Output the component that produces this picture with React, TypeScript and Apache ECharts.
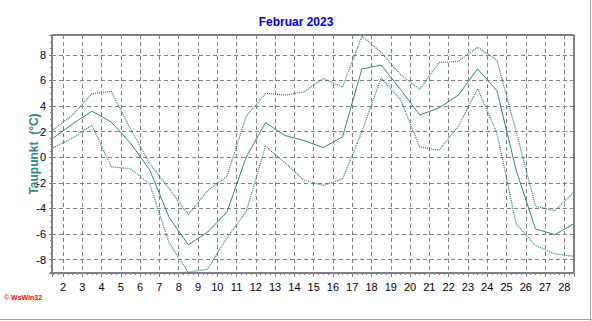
import React, { useEffect, useRef } from 'react';
import * as echarts from 'echarts';

const TITLE = 'Februar 2023';
const Y_NAME = 'Taupunkt  (°C)';
const COPYRIGHT = '© WsWin32';

// day of month (values plotted at the middle of each day)
const DAYS = [1, 2, 3, 4, 5, 6, 7, 8, 9, 10, 11, 12, 13, 14, 15, 16, 17, 18, 19, 20, 21, 22, 23, 24, 25, 26, 27, 28];

// daily mean dew point (°C)
const MEAN = [1.5, 2.6, 3.6, 2.75, 1.1, -1.0, -4.7, -6.85, -5.85, -4.3, 0.0, 2.7, 1.7, 1.3, 0.75, 1.6, 6.9, 7.2, 5.3, 3.3, 3.85, 4.85, 6.9, 5.2, -1.0, -5.6, -6.05, -5.2];
// daily maximum dew point (°C)
const MAX = [2.15, 3.3, 4.95, 5.15, 2.2, -0.5, -2.45, -4.5, -2.6, -1.5, 3.2, 5.0, 4.85, 5.1, 6.15, 5.5, 9.45, 8.2, 6.45, 5.3, 7.4, 7.5, 8.6, 7.6, 2.0, -3.8, -4.2, -2.7];
// daily minimum dew point (°C)
const MIN = [0.75, 1.5, 2.5, -0.75, -0.9, -2.1, -6.7, -9.0, -8.75, -6.3, -4.25, 0.85, -0.4, -1.8, -2.2, -1.7, 2.0, 6.2, 4.5, 0.8, 0.55, 2.4, 5.35, 1.9, -5.2, -6.9, -7.55, -7.75];

const LINE_COLOR = '#2f8585';
const DOT_COLOR = '#237d7d';
const GRID_COLOR = '#808080';
const FONT = 'Liberation Sans';

export default function App() {
  const ref = useRef<HTMLDivElement>(null);

  useEffect(() => {
    const chart = echarts.init(ref.current as HTMLDivElement, null, { renderer: 'svg' });
    const pts = (arr: number[]) => DAYS.map((d, i) => [d + 0.5, arr[i]]);
    const isInt = (v: number) => Math.abs(v - Math.round(v)) < 1e-6;

    chart.setOption({
      animation: false,
      backgroundColor: '#ffffff',
      title: {
        text: TITLE,
        left: 'center',
        top: 11,
        textStyle: { color: '#0000ff', fontSize: 12, fontWeight: 'bold', fontFamily: FONT },
      },
      grid: {
        left: 52,
        right: 18,
        top: 35,
        bottom: 48,
        show: true,
        borderColor: '#000000',
        borderWidth: 1,
        backgroundColor: 'transparent',
      },
      xAxis: {
        type: 'value',
        min: 1.43,
        max: 28.5,
        minInterval: 1,
        maxInterval: 1,
        splitNumber: 27,
        axisLine: { show: true, onZero: false, lineStyle: { color: GRID_COLOR, width: 2 } },
        axisTick: { show: true, length: 4, lineStyle: { color: GRID_COLOR } },
        minorTick: { show: true, splitNumber: 4, length: 2, lineStyle: { color: GRID_COLOR } },
        axisLabel: {
          color: '#000',
          fontSize: 11,
          fontFamily: FONT,
          margin: 8,
          showMinLabel: false,
          showMaxLabel: false,
          formatter: (v: number) => (isInt(v) ? String(Math.round(v)) : ''),
        },
        splitLine: { show: true, lineStyle: { color: GRID_COLOR, type: [4, 3], width: 1 } },
      },
      yAxis: {
        type: 'value',
        min: -9.05,
        max: 9.55,
        minInterval: 2,
        maxInterval: 2,
        name: Y_NAME,
        nameLocation: 'middle',
        nameGap: 12,
        nameMoveOverlap: false,
        nameTextStyle: { color: '#2e8b8b', fontSize: 12, fontWeight: 'bold', fontFamily: FONT },
        axisLine: { show: true, onZero: false, lineStyle: { color: GRID_COLOR, width: 2 } },
        axisTick: { show: true, length: 3, lineStyle: { color: GRID_COLOR } },
        minorTick: { show: true, splitNumber: 4, length: 2, lineStyle: { color: GRID_COLOR } },
        axisLabel: {
          color: '#000',
          fontSize: 11,
          fontFamily: FONT,
          margin: 6,
          showMinLabel: false,
          showMaxLabel: false,
          formatter: (v: number) => (isInt(v) && Math.round(v) % 2 === 0 ? String(Math.round(v)) : ''),
        },
        splitLine: { show: true, lineStyle: { color: GRID_COLOR, type: [4, 3], width: 1 } },
      },
      series: [
        {
          name: 'Maximum',
          type: 'line',
          data: pts(MAX),
          symbol: 'none',
          lineStyle: { color: DOT_COLOR, width: 1.2, type: [1, 1] },
        },
        {
          name: 'Minimum',
          type: 'line',
          data: pts(MIN),
          symbol: 'none',
          lineStyle: { color: DOT_COLOR, width: 1.2, type: [1, 1] },
        },
        {
          name: 'Mittel',
          type: 'line',
          data: pts(MEAN),
          symbol: 'none',
          lineStyle: { color: LINE_COLOR, width: 1 },
        },
      ],
      graphic: [
        {
          type: 'text',
          left: 4,
          top: 294,
          style: { text: COPYRIGHT, fill: '#ff0000', fontSize: 7, fontWeight: 'bold', fontFamily: FONT },
        },
        {
          type: 'line',
          shape: { x1: 590.5, y1: 0, x2: 590.5, y2: 321 },
          style: { stroke: '#a0a0a0', lineWidth: 1 },
        },
        {
          type: 'line',
          shape: { x1: 0, y1: 319.5, x2: 592, y2: 319.5 },
          style: { stroke: '#a0a0a0', lineWidth: 1 },
        },
      ],
    });

    return () => chart.dispose();
  }, []);

  return (
    <div
      ref={ref}
      style={{ position: 'fixed', left: 0, top: 0, width: 592, height: 321, background: '#fff' }}
    />
  );
}
